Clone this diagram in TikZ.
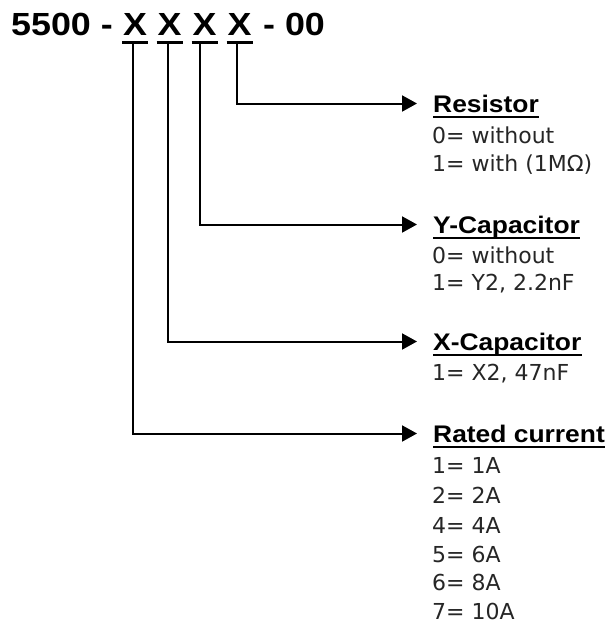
\documentclass[tikz,border=0pt]{standalone}
\usepackage{fontspec}
\usetikzlibrary{arrows.meta}
\newfontfamily\titlefont{Liberation Sans}[FakeStretch=1.12]
\newfontfamily\headfont{Liberation Sans}[FakeStretch=1.1]
\newfontfamily\bodyfont{DejaVu Sans}
\tikzset{
  titletext/.style={font=\titlefont\bfseries\fontsize{32}{36}\selectfont, inner sep=0pt, anchor=base},
  head/.style={font=\headfont\bfseries\fontsize{24}{28}\selectfont, inner sep=0pt, anchor=base west},
  body/.style={font=\bodyfont\fontsize{22}{26}\selectfont, inner sep=0pt, anchor=base west, text=black!85},
  conn/.style={line width=2pt, -{Triangle[length=15pt,width=16pt]}},
  uline/.style={line width=2.5pt},
}
\begin{document}
\begin{tikzpicture}[x=1pt,y=-1pt]
\useasboundingbox (0,0) rectangle (608,627);
% title
\node[titletext, anchor=base west] (t1) at (11,35) {5500 -};
\node[titletext] (x1) at (135,35) {X};
\node[titletext] (x2) at (169.5,35) {X};
\node[titletext] (x3) at (204.5,35) {X};
\node[titletext] (x4) at (239.5,35) {X};
\node[titletext, anchor=base west] (t2) at (263,35) {- 00};
\foreach \n in {x1,x2,x3,x4}
  \draw[uline] ([xshift=-13pt,yshift=-7.5pt]\n.base) -- ([xshift=13pt,yshift=-7.5pt]\n.base);
\coordinate (d1) at (132.5,42.5);
\coordinate (d2) at (167.5,42.5);
\coordinate (d3) at (200,42.5);
\coordinate (d4) at (237,42.5);
% headings
\node[head] (res) at (433,112) {Resistor};
\node[head] (ycap) at (433,233) {Y-Capacitor};
\node[head] (xcap) at (433,350) {X-Capacitor};
\node[head] (rate) at (433,442) {Rated current};
\foreach \n in {res,ycap,xcap,rate}
  \draw[uline] ([yshift=-5pt]\n.base west) -- ([yshift=-5pt]\n.base east);
% connectors
\draw[conn] (d4) |- ([xshift=-16pt,yshift=8.5pt]res.base west);
\draw[conn] (d3) |- ([xshift=-16pt,yshift=8.5pt]ycap.base west);
\draw[conn] (d2) |- ([xshift=-16pt,yshift=8.5pt]xcap.base west);
\draw[conn] (d1) |- ([xshift=-16pt,yshift=8.5pt]rate.base west);
% body texts
\node[body] (r1) at (432,143) {0= without};
\node[body] (r2) at (432,171) {1= with (1M\symbol{"03A9})};
\node[body] (y1) at (432,263) {0= without};
\node[body] (y2) at (432,290) {1= Y2, 2.2nF};
\node[body] (xc1) at (432,380) {1= X2, 47nF};
\node[body] (c1) at (432,473) {1= 1A};
\node[body] (c2) at (432,503) {2= 2A};
\node[body] (c3) at (432,533) {4= 4A};
\node[body] (c4) at (432,562) {5= 6A};
\node[body] (c5) at (432,590) {6= 8A};
\node[body] (c6) at (432,619) {7= 10A};
\end{tikzpicture}
\end{document}
